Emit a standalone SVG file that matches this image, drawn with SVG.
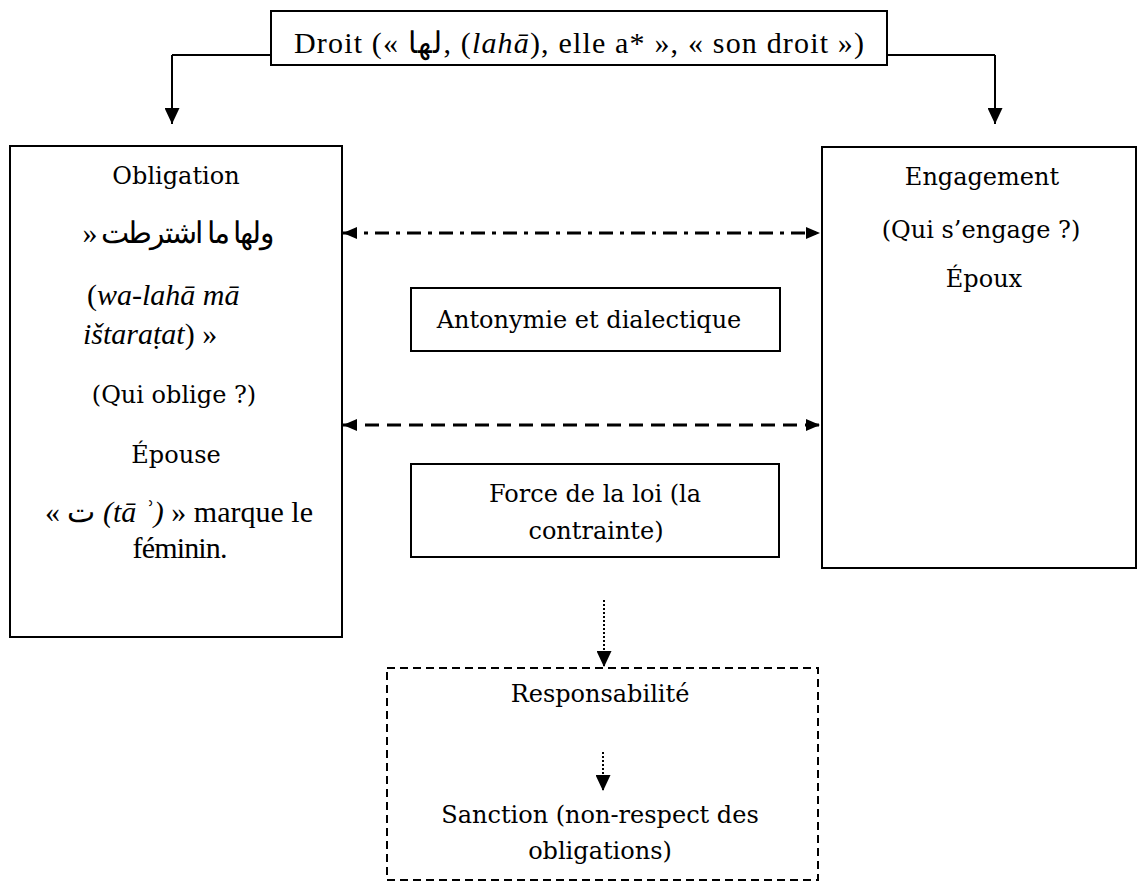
<svg xmlns="http://www.w3.org/2000/svg" width="1147" height="887" viewBox="0 0 1147 887">
<defs>
<style>
.box{fill:#fff;stroke:#000;stroke-width:2}
.dbox{fill:none;stroke:#000;stroke-width:2;stroke-dasharray:8 5}
.c{font-family:"DejaVu Serif","Liberation Serif",serif;font-size:24px;fill:#000}
.t{font-family:"Liberation Serif","Noto Sans",serif;font-size:30px;fill:#000}
.ln{fill:none;stroke:#000;stroke-width:2}
.lh{fill:none;stroke:#000;stroke-width:3}
</style>
<marker id="av" viewBox="0 0 16 15" refX="16" refY="7.5" markerWidth="16" markerHeight="15" markerUnits="userSpaceOnUse" orient="auto">
<path d="M0,0 L16,7.5 L0,15 Z" fill="#000"/>
</marker>
<marker id="ah" viewBox="0 0 14 12" refX="14" refY="6" markerWidth="14" markerHeight="12" markerUnits="userSpaceOnUse" orient="auto-start-reverse">
<path d="M0,0 L14,6 L0,12 Z" fill="#000"/>
</marker>
</defs>
<rect width="1147" height="887" fill="#fff"/>
<g id="connectors">
<path class="ln" d="M172,55 H995"/>
<path class="ln" d="M172,55 V124" marker-end="url(#av)"/>
<path class="ln" d="M995,55 V124" marker-end="url(#av)"/>
<path class="lh" d="M343,233 H820" stroke-dasharray="14 7 4 7" marker-start="url(#ah)" marker-end="url(#ah)"/>
<path class="lh" d="M343,425 H820" stroke-dasharray="14 8" marker-start="url(#ah)" marker-end="url(#ah)"/>
<path class="ln" d="M604,600 V667" stroke-dasharray="2 2" marker-end="url(#av)"/>
<path class="ln" d="M603,752 V791" stroke-dasharray="2 2" marker-end="url(#av)"/>
</g>
<g id="droit">
<rect class="box" x="271" y="11" width="616" height="54"/>
<text class="t" x="579" y="53" text-anchor="middle" textLength="570">Droit (« لها, (<tspan font-style="italic">lahā</tspan>), elle a* », « son droit »)</text>
</g>
<g id="obligation">
<rect class="box" x="10" y="146" width="332" height="491"/>
<text class="c" x="176" y="184" text-anchor="middle">Obligation</text>
<text class="t" x="178" y="243" text-anchor="middle" font-size="28" textLength="191">» ولها ما اشترطت</text>
<text class="t" x="87" y="305" font-size="33">(<tspan font-style="italic">wa-lahā mā</tspan></text>
<text class="t" x="83" y="344" font-size="33"><tspan font-style="italic">ištaraṭat</tspan>) »</text>
<text class="c" x="174" y="403" text-anchor="middle">(Qui oblige ?)</text>
<text class="c" x="176" y="463" text-anchor="middle">Épouse</text>
<text class="t" x="179" y="522" text-anchor="middle" textLength="268">« ت <tspan font-style="italic">(tā ʾ)</tspan> » marque le</text>
<text class="t" x="180" y="558" text-anchor="middle" textLength="95">féminin.</text>
</g>
<g id="engagement">
<rect class="box" x="822" y="147" width="314" height="421"/>
<text class="c" x="982" y="185" text-anchor="middle">Engagement</text>
<text class="c" x="981" y="238" text-anchor="middle">(Qui s’engage ?)</text>
<text class="c" x="984" y="287" text-anchor="middle">Époux</text>
</g>
<g id="antonymie">
<rect class="box" x="411" y="288" width="369" height="63"/>
<text class="c" x="589" y="328" text-anchor="middle">Antonymie et dialectique</text>
</g>
<g id="force">
<rect class="box" x="411" y="464" width="368" height="93"/>
<text class="c" x="595" y="502" text-anchor="middle">Force de la loi (la</text>
<text class="c" x="596" y="539" text-anchor="middle">contrainte)</text>
</g>
<g id="responsabilite">
<rect class="dbox" x="387" y="668" width="431" height="212"/>
<text class="c" x="600" y="702" text-anchor="middle">Responsabilité</text>
<text class="c" x="600" y="823" text-anchor="middle">Sanction (non-respect des</text>
<text class="c" x="600" y="859" text-anchor="middle">obligations)</text>
</g>
</svg>
